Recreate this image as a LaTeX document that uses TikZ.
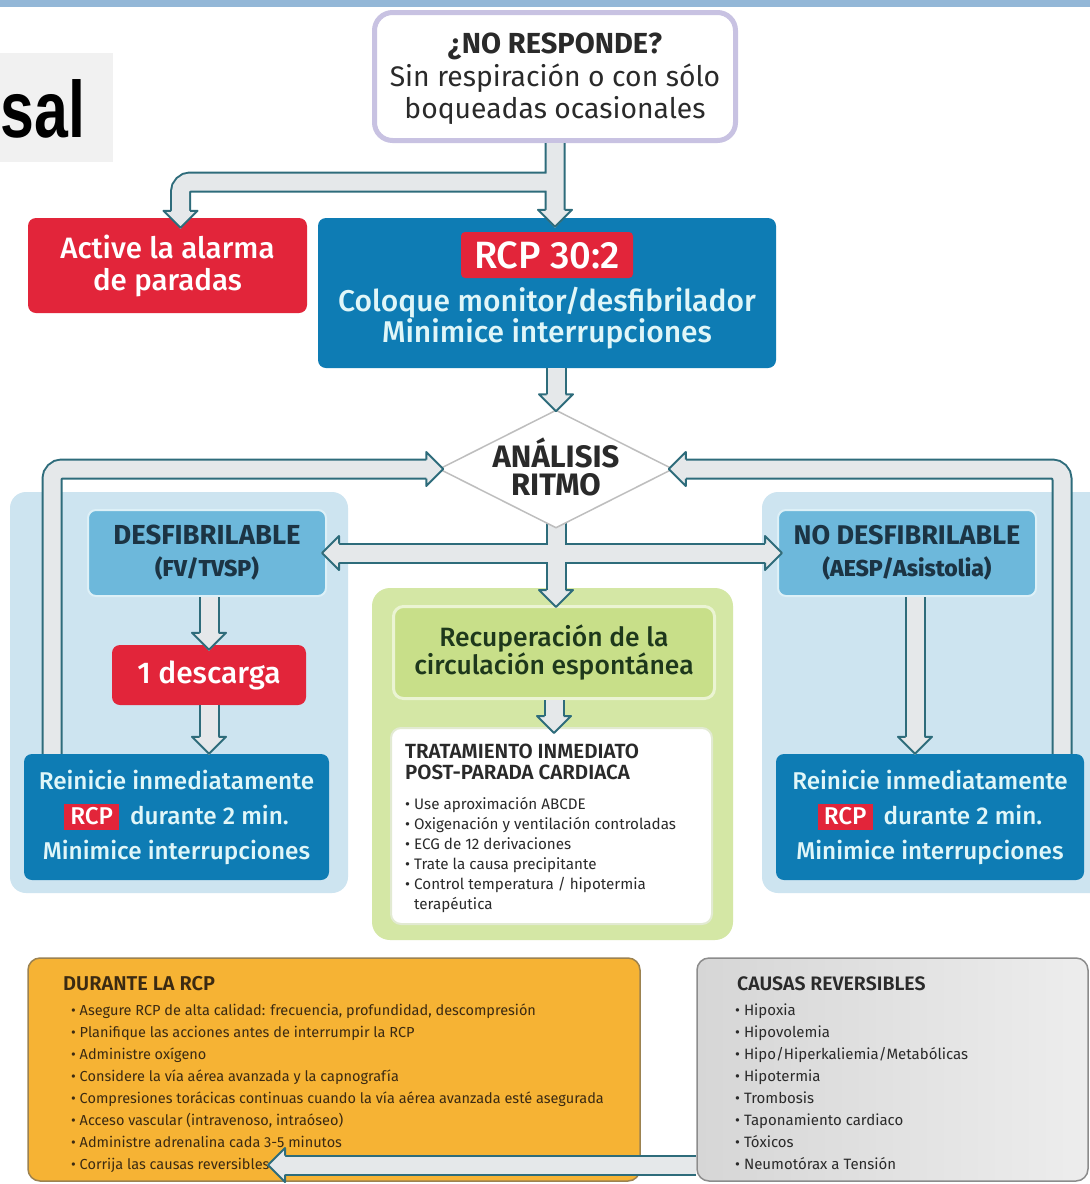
\documentclass[tikz,border=0pt]{standalone}
\usepackage{fontspec}
\setmainfont{Fira Sans}
\newfontfamily\fmed{Fira Sans Medium}
\newfontfamily\fsemi{Fira Sans SemiBold}
\newfontfamily\arialfont{Liberation Sans}
\usetikzlibrary{shapes.geometric,calc}
\definecolor{stripblue}{HTML}{93B7D7}
\definecolor{salgrey}{HTML}{F1F1F1}
\definecolor{lav}{HTML}{C8C2E2}
\definecolor{rcpred}{HTML}{E2253A}
\definecolor{rcpblue}{HTML}{0E7CB4}
\definecolor{lightpanel}{HTML}{CDE4F0}
\definecolor{midblue}{HTML}{6DB8DB}
\definecolor{midborder}{HTML}{DDF0F7}
\definecolor{cyantext}{HTML}{E0F6F8}
\definecolor{navytext}{HTML}{1C3444}
\definecolor{greenpanel}{HTML}{D4E7A5}
\definecolor{lime}{HTML}{C8DF89}
\definecolor{limeborder}{HTML}{EBF4D3}
\definecolor{greentext}{HTML}{1E381C}
\definecolor{tratborder}{HTML}{E2EAD2}
\definecolor{orangefill}{HTML}{F6B334}
\definecolor{orangeborder}{HTML}{9C8250}
\definecolor{greyborder}{HTML}{8C8C8C}
\definecolor{causL}{HTML}{D6D6D6}
\definecolor{causR}{HTML}{EDEDED}
\definecolor{pipeedge}{HTML}{2E6C7B}
\definecolor{pipefill}{HTML}{E5E8EA}
\definecolor{diamondborder}{HTML}{BEBEBE}
\definecolor{darktext}{HTML}{2A2A2A}
\definecolor{durtext}{HTML}{3B2A12}
\newcommand\myfs[2]{\fontsize{#1}{#2}\selectfont}
\newcommand\rcpbox{{\setlength\fboxsep{0pt}\colorbox{rcpred}{\hspace{6pt}\rule[-6pt]{0pt}{26pt}\textcolor{white}{RCP}\hspace{6pt}}}}
\newcommand\bul{\textbullet\ }
\newcommand\pipes[1]{\draw[pipeout] #1; \draw[pipein] #1;}
\tikzset{
  box/.style={rectangle, inner sep=0pt, rounded corners=8pt},
  txt/.style={inner sep=0pt, align=center},
  lst/.style={anchor=north west, inner sep=0pt, align=left},
  pipeout/.style={draw=pipeedge, line width=21pt, rounded corners=10pt},
  pipein/.style={draw=pipefill, line width=17pt, rounded corners=10pt},
  ahead/.pic={
    \fill[pipefill] (1,0) -- (-17,-17) -- (-17,17) -- cycle;
    \draw[pipeedge, line width=2pt, line join=round] (-17,-9.5) -- (-17,-17) -- (0,0) -- (-17,17) -- (-17,9.5);
  }
}
\begin{document}
\begin{tikzpicture}[x=1pt,y=-1pt]
\useasboundingbox (0,0) rectangle (1090,1184);
\fill[white] (0,0) rectangle (1090,1184);
\fill[stripblue] (0,0) rectangle (1090,7);
% partial title
\node[box, rounded corners=0pt, fill=salgrey, minimum width=113, minimum height=109] (salbox) at (56.5,107.5) {};
\node[anchor=base west, inner sep=0pt, xscale=0.76, transform shape, font=\arialfont\bfseries\myfs{80}{80}] (saltxt) at (0.5,137) {sal};
% panels
\node[box, rounded corners=16pt, fill=lightpanel, minimum width=338, minimum height=401] (lpanel) at (179,692.5) {};
\node[box, rounded corners=16pt, fill=lightpanel, minimum width=350, minimum height=401] (rpanel) at (937,692.5) {};
\node[box, rounded corners=18pt, fill=greenpanel, minimum width=361, minimum height=352] (gpanel) at (552.5,764) {};
% top
\node[box, rounded corners=18pt, draw=lav, line width=5pt, fill=white, minimum width=361, minimum height=128] (top) at (555,76.5) {};
\node[txt, text=darktext, font=\myfs{28.3}{32.5}] (toptxt) at (555,79) {{\bfseries\myfs{29}{32.5}¿NO RESPONDE?}\\Sin respiración o con sólo\\boqueadas ocasionales};
% alarm
\node[box, fill=rcpred, minimum width=279, minimum height=95, text=white, font=\fmed\myfs{29.5}{32}, align=center] (alarm) at (167.5,265.5) {Active la alarma\\de paradas};
% RCP
\node[box, fill=rcpblue, minimum width=458, minimum height=150] (rcp) at (547,293) {};
\node[box, rounded corners=4pt, fill=rcpred, minimum width=172, minimum height=46, text=white, font=\fmed\myfs{38}{40}] (rcp302) at (547,255) {RCP 30:2};
\node[txt, text=cyantext, font=\fmed\myfs{30}{30}] (rcpinfo) at (547,318) {Coloque monitor/desfibrilador\\Minimice interrupciones};
% desfibrilable
\node[box, fill=midblue, draw=midborder, line width=2pt, minimum width=238, minimum height=86, text=navytext, align=center, font=\bfseries\myfs{27.5}{32}] (desf) at (207,553) {DESFIBRILABLE\\{\fmed\myfs{23}{32}(FV/TVSP)}};
\node[box, fill=midblue, draw=midborder, line width=2pt, minimum width=258, minimum height=86, text=navytext, align=center, font=\bfseries\myfs{27}{32}] (nodesf) at (907,553) {NO DESFIBRILABLE\\{\fmed\myfs{23}{32}(AESP/Asistolia)}};
\node[box, fill=rcpred, minimum width=194, minimum height=60, text=white, font=\fmed\myfs{30}{32}] (descarga) at (209,675) {1 descarga};
\node[box, fill=rcpblue, minimum width=305, minimum height=126, text=cyantext, font=\fmed\myfs{24.3}{35}, align=center] (reinL) at (176.5,817) {Reinicie inmediatamente\\\rcpbox\hspace{5pt} durante 2 min.\\Minimice interrupciones};
\node[box, fill=rcpblue, minimum width=308, minimum height=126, text=cyantext, font=\fmed\myfs{24.3}{35}, align=center] (reinR) at (930,817) {Reinicie inmediatamente\\\rcpbox\hspace{5pt} durante 2 min.\\Minimice interrupciones};
% ROSC
\node[box, rounded corners=10pt, fill=lime, draw=limeborder, line width=3pt, minimum width=321, minimum height=92, text=greentext, font=\fmed\myfs{26.5}{28}, align=center] (recup) at (554,652.5) {Recuperación de la\\circulación espontánea};
\node[box, rounded corners=10pt, fill=white, draw=tratborder, line width=2pt, minimum width=321, minimum height=196] (trat) at (551.5,826) {};
\node[lst, text=darktext, font=\fsemi\myfs{20.5}{21}] (tratTitle) at (405,744) {TRATAMIENTO INMEDIATO\\POST-PARADA CARDIACA};
\node[lst, text=darktext, font=\myfs{15.2}{20}] (tratList) at (405,797) {\bul Use aproximación ABCDE\\\bul Oxigenación y ventilación controladas\\\bul ECG de 12 derivaciones\\\bul Trate la causa precipitante\\\bul Control temperatura / hipotermia\\\phantom{\bul}terapéutica};
% bottom boxes
\node[box, rounded corners=12pt, fill=orangefill, draw=orangeborder, line width=1.5pt, minimum width=612, minimum height=223] (durante) at (334,1069.5) {};
\node[lst, text=durtext, font=\fsemi\myfs{20}{21}] (durTitle) at (63,976) {DURANTE LA RCP};
\node[lst, text=durtext, font=\myfs{14.5}{21.9}] (durList) at (71,1004) {\bul Asegure RCP de alta calidad: frecuencia, profundidad, descompresión\\\bul Planifique las acciones antes de interrumpir la RCP\\\bul Administre oxígeno\\\bul Considere la vía aérea avanzada y la capnografía\\\bul Compresiones torácicas continuas cuando la vía aérea avanzada esté asegurada\\\bul Acceso vascular (intravenoso, intraóseo)\\\bul Administre adrenalina cada 3-5 minutos\\\bul Corrija las causas reversibles};
\node[box, rounded corners=12pt, left color=causL, right color=causR, draw=greyborder, line width=1.5pt, minimum width=391, minimum height=223] (causas) at (892.5,1069.5) {};
\node[lst, text=darktext, font=\fsemi\myfs{19.5}{21}] (causTitle) at (737,976) {CAUSAS REVERSIBLES};
\node[lst, text=darktext, font=\myfs{15}{21.9}] (causList) at (735,1004) {\bul Hipoxia\\\bul Hipovolemia\\\bul Hipo/Hiperkaliemia/Metabólicas\\\bul Hipotermia\\\bul Trombosis\\\bul Taponamiento cardiaco\\\bul Tóxicos\\\bul Neumotórax a Tensión};
% junction below the rhythm analysis
\coordinate (tRec) at ($(recup.north)+(2,2)$);
\coordinate (tDesf) at ($(desf.east)+(-5,0)$);
\coordinate (tNodesf) at ($(nodesf.west)+(5,0)$);
\pipes{(556,505) -- ($(tRec)+(0,-16)$) ($(tDesf)+(16,0)$) -- ($(tNodesf)+(-16,0)$)}
\pic[rotate=-90] at (tRec) {ahead};
\pic[rotate=180] at (tDesf) {ahead};
\pic at (tNodesf) {ahead};
% diamond
\node[diamond, draw=diamondborder, line width=1.5pt, fill=white, minimum width=234, minimum height=118, inner sep=0pt] (diamond) at (556,469) {};
\node[txt, text=darktext, font=\bfseries\myfs{31}{28}] (diamtxt) at (556,467) {ANÁLISIS\\RITMO};
% top connectors
\coordinate (tRCP) at ($(rcp.north -| top.south)+(0,9)$);
\coordinate (br) at (top.south |- 0,182);
\coordinate (tAl) at ($(alarm.north)+(13,10)$);
\pipes{(top.south) -- ($(tRCP)+(0,-16)$) (br) -- (tAl |- br) -- ($(tAl)+(0,-16)$)}
\pic[rotate=-90] at (tRCP) {ahead};
\pic[rotate=-90] at (tAl) {ahead};
% rcp -> diamond
\coordinate (tDia) at ($(diamond.north)+(0,2)$);
\pipes{(diamond.north |- rcp.south) -- ($(tDia)+(0,-16)$)}
\pic[rotate=-90] at (tDia) {ahead};
% shock path
\coordinate (tDes) at ($(descarga.north)+(0,5)$);
\pipes{(descarga.north |- desf.south) -- ($(tDes)+(0,-16)$)}
\pic[rotate=-90] at (tDes) {ahead};
\coordinate (tReL) at (descarga.south |- reinL.north);
\pipes{(descarga.south) -- ($(tReL)+(0,-16)$)}
\pic[rotate=-90] at (tReL) {ahead};
% non shockable path
\coordinate (nS) at ($(nodesf.south)+(8,0)$);
\coordinate (tReR) at (nS |- reinR.north);
\pipes{(nS) -- ($(tReR)+(0,-16)$)}
\pic[rotate=-90] at (tReR) {ahead};
% ROSC -> treatment
\coordinate (tTr) at ($(recup.south |- trat.north)+(0,6)$);
\pipes{(recup.south) -- ($(tTr)+(0,-16)$)}
\pic[rotate=-90] at (tTr) {ahead};
% loops back to rhythm analysis
\coordinate (tDW) at ($(diamond.west)+(5,0)$);
\coordinate (tDE) at ($(diamond.east)+(-5,0)$);
\pipes{(52,0 |- reinL.north) -- (52,0 |- tDW) -- ($(tDW)+(-16,0)$) (1062,0 |- reinR.north) -- (1062,0 |- tDE) -- ($(tDE)+(16,0)$)}
\pic at (tDW) {ahead};
\pic[rotate=180] at (tDE) {ahead};
% reversible causes -> during CPR
\coordinate (tDur) at (268,1165);
\pipes{(causas.west |- tDur) -- ($(tDur)+(16,0)$)}
\pic[rotate=180] at (tDur) {ahead};
\end{tikzpicture}
\end{document}
